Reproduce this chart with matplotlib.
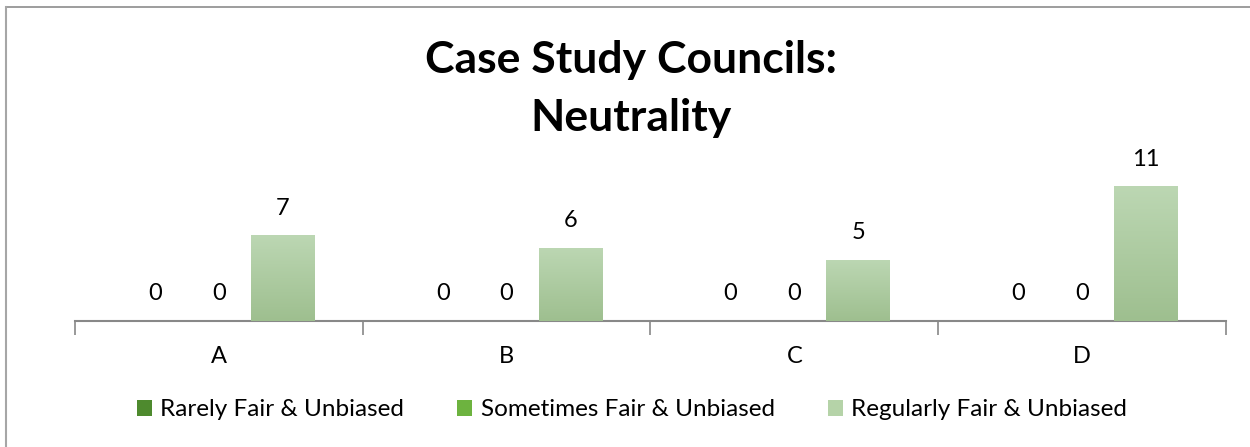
import matplotlib
matplotlib.use("Agg")
import matplotlib.pyplot as plt
import numpy as np
from matplotlib.colors import LinearSegmentedColormap
from matplotlib.lines import Line2D
from matplotlib.patches import Patch
from matplotlib.transforms import offset_copy

categories = ["A", "B", "C", "D"]
series_names = ["Rarely Fair & Unbiased", "Sometimes Fair & Unbiased", "Regularly Fair & Unbiased"]
rarely = [0, 0, 0, 0]
sometimes = [0, 0, 0, 0]
regularly = [7, 6, 5, 11]
series_values = [rarely, sometimes, regularly]
series_top = ["#5E9A3C", "#7CC04E", "#BCD7B3"]
series_bottom = ["#447A28", "#5DA530", "#9EBF8F"]
legend_colors = ["#4E8A2E", "#6DB33F", "#B5D3A8"]

plt.rcParams['font.family'] = ['Lato', 'DejaVu Sans']

fig = plt.figure(figsize=(12.5, 4.47), dpi=100)
W, H = 1250, 447
ax = fig.add_axes([75 / W, (H - 321) / H, (1226 - 75) / W, 171.5 / H])

x = np.arange(len(categories))
width = 0.222
offsets = [-width, 0, width]
for vals, off, ct, cb in zip(series_values, offsets, series_top, series_bottom):
    bars = ax.bar(x + off, vals, width, color=cb, edgecolor='none', zorder=2)
    cmap = LinearSegmentedColormap.from_list("g", [cb, ct])
    for b, v in zip(bars, vals):
        if v > 0:
            grad = np.linspace(0, 1, 256).reshape(-1, 1)
            im = ax.imshow(grad, cmap=cmap, origin='lower', aspect='auto',
                           extent=[b.get_x(), b.get_x() + b.get_width(), 0, v], zorder=3)
            im.set_clip_path(b)
        ax.annotate(f"{v}", (b.get_x() + b.get_width() / 2, v), xytext=(0, 12),
                    textcoords='offset points', ha='center', va='bottom',
                    fontsize=17, color='black')

ax.set_xlim(-0.5, len(categories) - 0.5)
ax.set_ylim(0, 14)
ax.set_yticks([])
for s in ['left', 'top', 'right']:
    ax.spines[s].set_visible(False)
ax.spines['bottom'].set_color('#888888')
ax.spines['bottom'].set_linewidth(1.5)
ax.set_xticks(np.arange(-0.5, len(categories), 1.0))
ax.set_xticklabels([])
ax.tick_params(axis='x', length=10, width=1.2, color='#888888')
lab_tr = offset_copy(ax.get_xaxis_transform(), fig=fig, y=-25, units='dots')
for xi, c in zip(x, categories):
    ax.text(xi, 0, c, transform=lab_tr, ha='center', va='top', fontsize=17)

fig.text(631 / W, 1 - 60 / H, "Case Study Councils:", ha='center', va='center',
         fontsize=32, fontweight='bold')
fig.text(631 / W, 1 - 118 / H, "Neutrality", ha='center', va='center',
         fontsize=32, fontweight='bold')

handles = [Patch(facecolor=c, edgecolor='none') for c in legend_colors]
fig.legend(handles, series_names, loc='center', bbox_to_anchor=(632 / W, 1 - 410 / H),
           ncol=3, frameon=False, fontsize=17.5, handlelength=0.6, handleheight=0.6,
           handletextpad=0.35, columnspacing=2.2)

fig.add_artist(Line2D([6 / W, 1], [1 - 7 / H, 1 - 7 / H], transform=fig.transFigure,
                      color='#8C8C8C', lw=1.2))
fig.add_artist(Line2D([6 / W, 6 / W], [0, 1 - 7 / H], transform=fig.transFigure,
                      color='#A6A6A6', lw=1.5))

fig.savefig("out.png", dpi=100, facecolor='white')
